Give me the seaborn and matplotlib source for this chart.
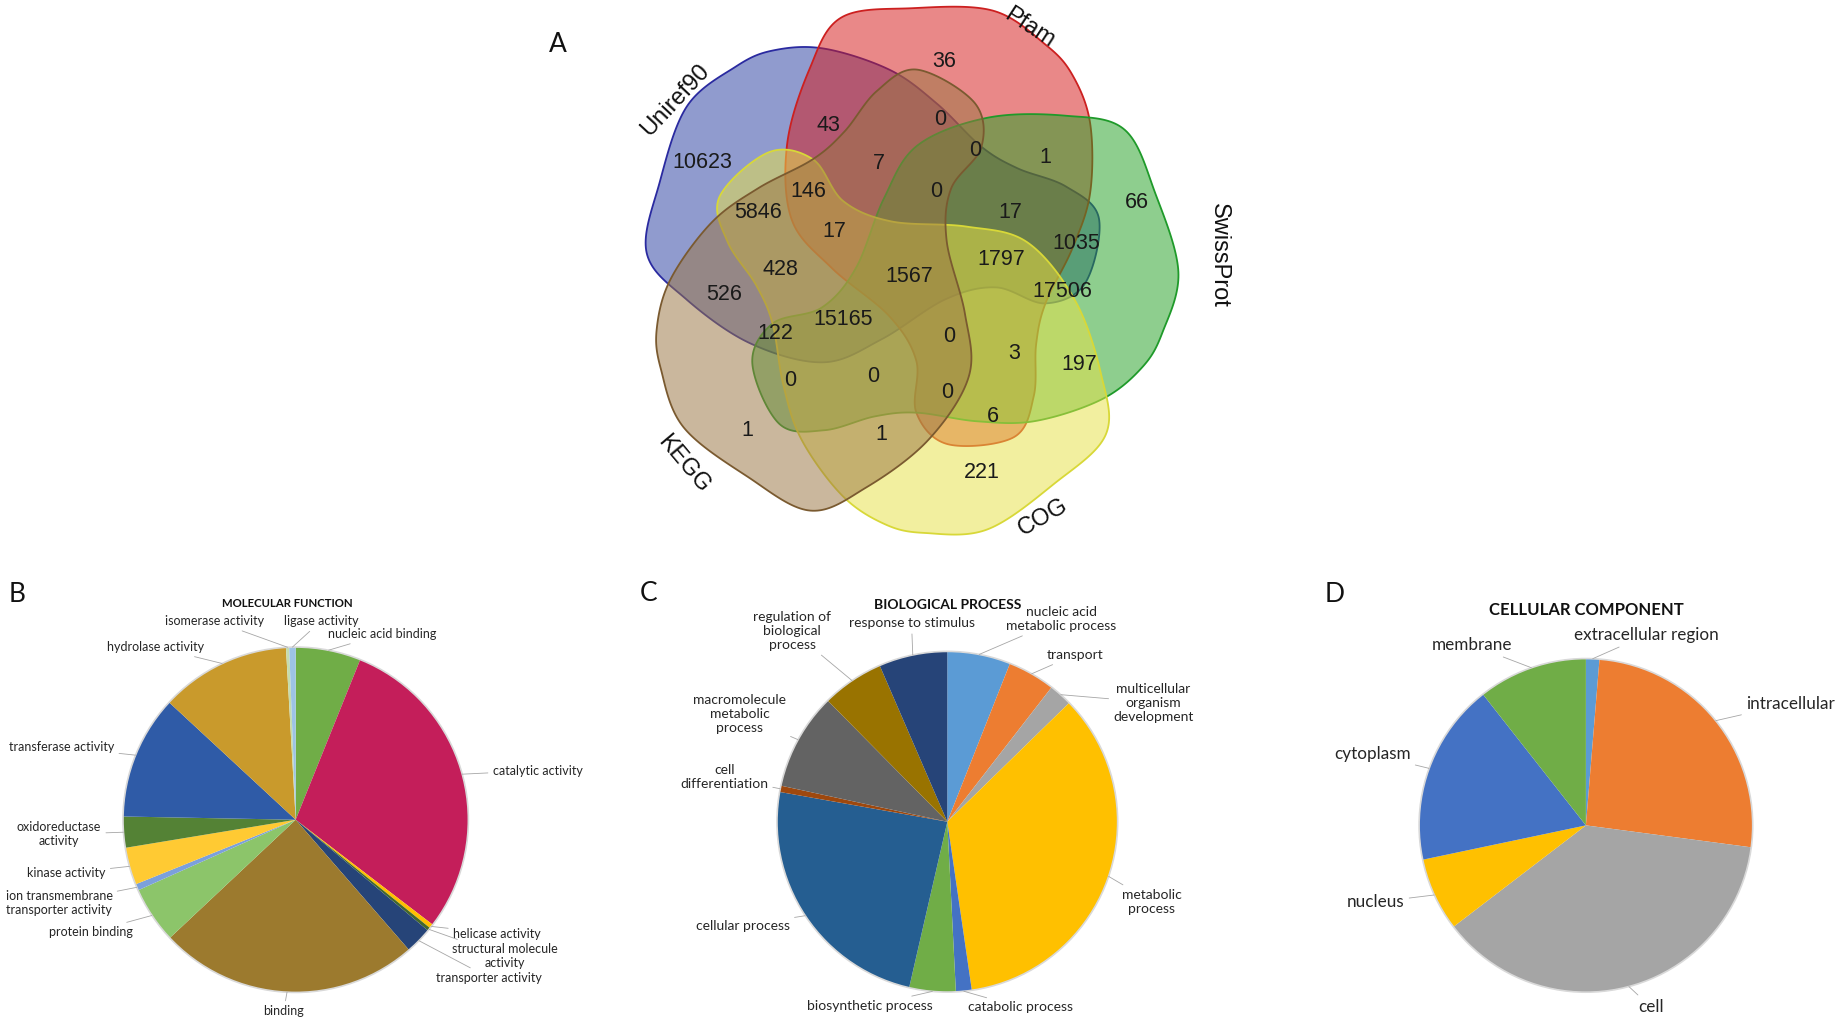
import numpy as np
import matplotlib.pyplot as plt
import seaborn as sns
from matplotlib.patches import Polygon, Circle

sns.set_theme(style="white")
plt.rcParams['font.family'] = ['Liberation Sans', 'DejaVu Sans']

# ---------------- data ----------------
# A: five-set venn (region counts)
venn_names = ['Pfam', 'SwissProt', 'COG', 'KEGG', 'Uniref90']
venn_counts = [36, 43, 0, 10623, 7, 0, 1, 146, 0, 66, 5846, 17, 17, 1035,
               1797, 1567, 428, 17506, 526, 15165, 122, 0, 3, 197, 0, 0, 0,
               6, 1, 1, 221]

# B: molecular function (% of slice)
mf_labels = ['nucleic acid binding', 'catalytic activity', 'helicase activity',
             'structural molecule\nactivity', 'transporter activity', 'binding',
             'protein binding', 'ion transmembrane\ntransporter activity',
             'kinase activity', 'oxidoreductase\nactivity', 'transferase activity',
             'hydrolase activity', 'isomerase activity', 'ligase activity']
mf_values = [6.1, 29.3, 0.4, 0.3, 2.5, 24.4, 5.3, 0.6, 3.5, 2.9, 11.6, 12.2, 0.3, 0.6]

# C: biological process
bp_labels = ['nucleic acid\nmetabolic process', 'transport',
             'multicellular\norganism\ndevelopment', 'metabolic\nprocess',
             'catabolic process', 'biosynthetic process', 'cellular process',
             'cell\ndifferentiation', 'macromolecule\nmetabolic\nprocess',
             'regulation of\nbiological\nprocess', 'response to stimulus']
bp_values = [6.0, 4.5, 2.2, 35.0, 1.5, 4.4, 24.2, 0.6, 9.2, 5.9, 6.5]

# D: cellular component
cc_labels = ['extracellular region', 'intracellular', 'cell', 'nucleus',
             'cytoplasm', 'membrane']
cc_values = [1.3, 25.8, 37.5, 7.1, 17.7, 10.6]

# ---------------- styling / layout ----------------
W, H = 1568, 873  # layout grid (scaled to 1842x1026)

venn_fill = ['#d51c1c', '#27a227', '#e7e247', '#9b7644', '#2a40a2']
venn_edge = ['#cc2020', '#1f9a2a', '#d8d838', '#7a5a30', '#2a2aa0']
venn_order = [4, 0, 1, 2, 3]  # drawing order: Uniref90, Pfam, SwissProt, COG, KEGG
venn_center = (771, 229)
# one petal (Pfam), relative to centre, y up; others are rotations of it
petal = np.array([(-55, 214), (5, 222), (74, 220), (119, 191), (142, 165),
                  (157, 124), (157, 65), (142, 18), (119, -29), (111, -64),
                  (109, -108), (92, -143), (36, -149), (9, -122), (9, -78),
                  (-14, -40), (-63, 1), (-97, 42), (-101, 106), (-82, 170)], float)
venn_xy = [(804, 52), (705, 107), (800, 102), (598, 138), (748, 139), (830, 128),
           (890, 134), (688, 163), (797, 163), (968, 172), (645, 181), (710, 197),
           (860, 181), (916, 207), (852, 221), (774, 235), (664, 229), (904, 248),
           (616, 251), (718, 272), (660, 284), (808, 286), (863, 301), (919, 310),
           (673, 324), (743, 320), (806, 334), (845, 354), (636, 366), (750, 370),
           (836, 402)]
venn_name_xy = [(876, 24, -33), (1038, 217, -90), (888, 440, 30), (582, 395, -50),
                (575, 85, 47)]

mf_colors = ['#70ad47', '#c41e5a', '#ffc000', '#43682b', '#264478', '#9c7a2e',
             '#8cc56a', '#7ba0dc', '#ffca33', '#548235', '#2f5ba7', '#c99a2c',
             '#c5dcae', '#9dc3e6']
bp_colors = ['#5b9bd5', '#ed7d31', '#a5a5a5', '#ffc000', '#4472c4', '#70ad47',
             '#255e91', '#9e480e', '#636363', '#997300', '#264478']
cc_colors = ['#5b9bd5', '#ed7d31', '#a5a5a5', '#ffc000', '#4472c4', '#70ad47']

mf_pos = [(0.19, 1.075, 'left'), (1.14, 0.285, 'left'), (0.91, -0.66, 'left'),
          (1.21, -0.79, 'center'), (1.12, -0.915, 'center'), (-0.07, -1.11, 'center'),
          (-0.94, -0.65, 'right'), (-1.37, -0.48, 'center'), (-1.10, -0.31, 'right'),
          (-1.37, -0.085, 'center'), (-1.05, 0.42, 'right'), (-0.53, 1.0, 'right'),
          (-0.18, 1.15, 'right'), (-0.07, 1.15, 'left')]
bp_pos = [(0.67, 1.19, 'center'), (0.75, 0.98, 'center'), (1.21, 0.70, 'center'),
          (1.20, -0.47, 'center'), (0.43, -1.09, 'center'), (-0.455, -1.08, 'center'),
          (-1.20, -0.61, 'center'), (-1.31, 0.26, 'center'), (-1.22, 0.63, 'center'),
          (-0.91, 1.12, 'center'), (-0.21, 1.165, 'center')]
cc_pos = [(0.36, 1.14, 'center'), (0.96, 0.73, 'left'), (0.39, -1.09, 'center'),
          (-1.26, -0.46, 'center'), (-1.28, 0.425, 'center'), (-0.68, 1.08, 'center')]

pie_font = ['Lato', 'DejaVu Sans']


def smooth_closed(pts, n=24):
    # Catmull-Rom through the control points, closed
    m = len(pts)
    t = np.linspace(0, 1, n, endpoint=False)[:, None]
    out = []
    for i in range(m):
        p0, p1, p2, p3 = pts[i - 1], pts[i], pts[(i + 1) % m], pts[(i + 2) % m]
        out.append(0.5 * (2 * p1 + (-p0 + p2) * t + (2 * p0 - 5 * p1 + 4 * p2 - p3) * t ** 2
                          + (-p0 + 3 * p1 - 3 * p2 + p3) * t ** 3))
    return np.vstack(out)


fig = plt.figure(figsize=(18.42, 10.26), dpi=100)
ax = fig.add_axes([0, 0, 1, 1])
ax.set_xlim(0, W)
ax.set_ylim(H, 0)
ax.axis('off')

# venn petals
outline = smooth_closed(petal)
for k in venn_order:
    a = np.deg2rad(-72 * k)
    rot = np.array([[np.cos(a), -np.sin(a)], [np.sin(a), np.cos(a)]])
    p = outline @ rot.T
    xy = np.column_stack([venn_center[0] + p[:, 0], venn_center[1] - p[:, 1]])
    ax.add_patch(Polygon(xy, closed=True, facecolor=venn_fill[k], alpha=0.52, lw=0))
    ax.add_patch(Polygon(xy, closed=True, fill=False, edgecolor=venn_edge[k], lw=1.3))
    nx, ny, nr = venn_name_xy[k]
    ax.text(nx, ny, venn_names[k], rotation=nr, ha='center', va='center', fontsize=17,
            color='#111111', rotation_mode='anchor')

for c, (x, y) in zip(venn_counts, venn_xy):
    ax.text(x, y, str(c), ha='center', va='center', fontsize=15.5, color='#1a1a1a')

for lab, (x, y) in zip(['A', 'B', 'C', 'D'], [(475, 38), (15, 506), (552, 505), (1136, 506)]):
    ax.text(x, y, lab, ha='center', va='center', fontsize=19, family=pie_font, color='#111111')


def draw_pie(cx, cy, R, values, labels, colors, pos, title, title_xy, fs, tfs):
    L = 1.95
    pa = fig.add_axes([(cx - L * R) / W, (H - cy - L * R) / H, 2 * L * R / W, 2 * L * R / H])
    wedges, _ = pa.pie(values, colors=colors, startangle=90, counterclock=False,
                       wedgeprops=dict(linewidth=0))
    pa.add_patch(Circle((0, 0), 1, fill=False, ec='#d9d9d9', lw=1.2))
    for w, lab, (tx, ty, ha) in zip(wedges, labels, pos):
        mid = np.deg2rad((w.theta1 + w.theta2) / 2)
        pa.annotate(lab, xy=(np.cos(mid), np.sin(mid)), xytext=(tx, ty), ha=ha,
                    va='center', multialignment='center', fontsize=fs,
                    family=pie_font, color='#262626',
                    arrowprops=dict(arrowstyle='-', color='#a6a6a6', lw=0.6,
                                    shrinkA=1, shrinkB=0))
    pa.text(title_xy[0], title_xy[1], title, ha='center', va='center', fontsize=tfs,
            fontweight='bold', family=pie_font, color='#111111')
    pa.set_xlim(-L, L)
    pa.set_ylim(-L, L)
    pa.axis('off')


draw_pie(251.7, 697.5, 147, mf_values, mf_labels, mf_colors, mf_pos,
         'MOLECULAR FUNCTION', (-0.05, 1.25), 9, 8.2)
draw_pie(806.4, 699.2, 145, bp_values, bp_labels, bp_colors, bp_pos,
         'BIOLOGICAL PROCESS', (0.0, 1.27), 10, 10)
draw_pie(1350, 702.3, 142, cc_values, cc_labels, cc_colors, cc_pos,
         'CELLULAR COMPONENT', (0.0, 1.29), 12.3, 12)

fig.savefig('out.png', dpi=100, facecolor='white')
